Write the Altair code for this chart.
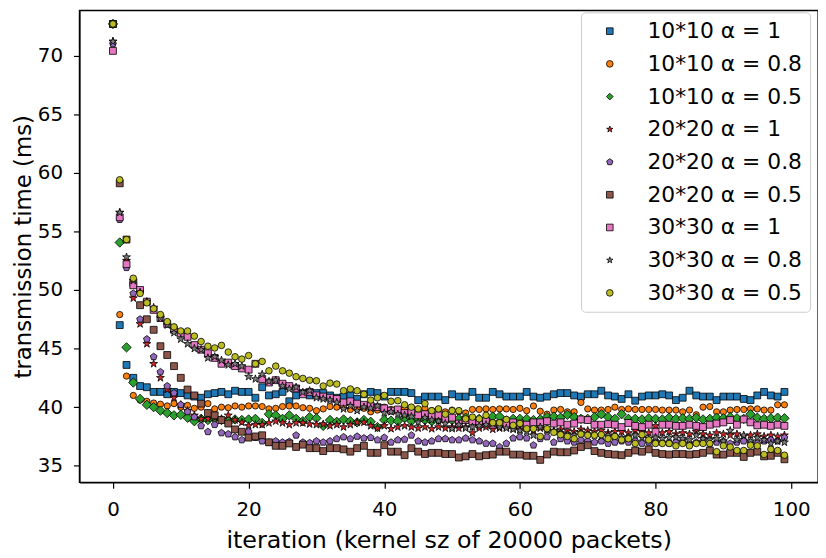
import altair as alt
import pandas as pd

labels = ["10*10 α = 1", "10*10 α = 0.8", "10*10 α = 0.5",
          "20*20 α = 1", "20*20 α = 0.8", "20*20 α = 0.5",
          "30*30 α = 1", "30*30 α = 0.8", "30*30 α = 0.5"]
colors = ["#1f77b4", "#ff7f0e", "#2ca02c", "#d62728", "#9467bd",
          "#8c564b", "#e377c2", "#7f7f7f", "#bcbd22"]
STAR = ("M0,-1L0.225,-0.309L0.951,-0.309L0.363,0.118L0.588,0.809L0,0.382"
        "L-0.588,0.809L-0.363,0.118L-0.951,-0.309L-0.225,-0.309Z")
PENT = "M0,-1L0.951,-0.309L0.588,0.809L-0.588,0.809L-0.951,-0.309Z"
DIAM = "M-1,0L0,-1L1,0L0,1Z"
shapes = ["square", "circle", DIAM, STAR, PENT, "square", "square", STAR, "circle"]
sizes = [48, 40, 90, 70, 52, 48, 48, 70, 44]

iterations = list(range(100))

blue = [
72.7, 47.0, 43.6, 42.5, 41.8, 41.7, 41.3, 41.3, 41.1, 41.3,
41.2, 41.0, 40.9, 40.8, 41.1, 41.2, 41.3, 41.1, 41.4, 41.3,
41.3, 40.8, 41.7, 41.0, 41.1, 41.3, 40.5, 41.0, 41.2, 41.0,
41.2, 41.2, 41.0, 40.8, 40.9, 41.0, 40.7, 41.1, 41.3, 41.2,
40.9, 41.3, 41.3, 41.3, 41.2, 40.6, 40.9, 40.9, 40.9, 40.6,
41.1, 40.9, 40.9, 41.3, 40.8, 40.8, 41.3, 41.1, 40.9, 40.9,
40.9, 41.3, 40.9, 40.8, 40.9, 41.1, 41.2, 41.2, 41.0, 40.9,
41.1, 41.1, 41.4, 41.0, 40.9, 40.7, 41.1, 40.55, 40.9, 41.0,
41.0, 41.1, 41.0, 40.6, 40.8, 41.4, 41.0, 40.9, 40.9, 40.6,
40.9, 40.9, 40.9, 40.7, 40.6, 41.0, 41.3, 41.0, 40.9, 41.3]

orange = [
72.7, 47.9, 42.65, 41.0, 40.6, 40.5, 40.35, 40.25, 40.1, 40.3,
40.0, 40.15, 39.9, 40.0, 40.3, 39.85, 40.0, 39.95, 40.1, 40.0,
40.1, 40.1, 40.05, 39.85, 39.9, 40.05, 40.1, 40.1, 39.95, 39.9,
39.7, 39.85, 40.05, 40.0, 40.0, 39.8, 39.85, 39.9, 39.6, 39.75,
40.0, 39.8, 39.7, 39.9, 39.75, 39.8, 39.9, 39.7, 39.8, 39.6,
39.75, 39.6, 39.5, 39.8, 39.8, 39.85, 39.8, 39.85, 39.85, 39.8,
39.9, 39.7, 40.1, 39.65, 39.4, 39.75, 39.8, 39.6, 39.6, 40.4,
39.85, 39.75, 39.75, 39.8, 40.0, 39.8, 39.85, 39.8, 39.8, 39.8,
39.8, 39.75, 39.75, 39.75, 39.6, 39.75, 39.35, 40.0, 40.05, 39.6,
39.6, 39.75, 39.8, 39.8, 39.85, 39.85, 39.75, 39.75, 40.2, 40.2]

green = [
72.7, 54.05, 45.1, 42.1, 40.7, 40.2, 40.0, 39.7, 39.5, 39.3,
39.35, 39.1, 38.8, 39.0, 38.9, 39.0, 38.9, 38.85, 38.95, 38.9,
38.95, 39.0, 38.65, 39.4, 39.3, 39.0, 39.3, 39.0, 38.8, 39.15,
39.05, 38.4, 38.9, 38.75, 38.95, 38.8, 38.7, 38.9, 38.75, 38.3,
38.9, 38.85, 38.8, 39.1, 38.8, 39.0, 38.9, 38.8, 38.9, 38.95,
38.9, 39.0, 39.1, 38.9, 39.0, 38.95, 39.2, 39.2, 38.85, 39.0,
39.0, 39.0, 38.9, 38.95, 39.15, 39.2, 39.1, 39.35, 39.15, 39.0,
39.0, 39.15, 39.4, 39.15, 39.0, 39.4, 39.0, 39.0, 38.95, 39.05,
39.0, 38.95, 39.1, 39.0, 39.05, 39.0, 39.1, 38.95, 39.0, 39.1,
39.05, 39.15, 39.05, 39.0, 39.4, 39.1, 39.0, 39.05, 39.1, 39.05]

red = [
71.2, 56.6, 52.5, 49.3, 47.1, 45.4, 43.7, 42.5, 41.5, 40.8,
40.2, 39.7, 39.3, 39.0, 39.0, 39.1, 39.0, 39.3, 38.9, 38.7,
38.4, 38.5, 38.5, 38.65, 38.8, 38.65, 38.5, 38.65, 38.65, 38.55,
38.5, 38.55, 38.4, 38.5, 38.3, 38.5, 38.7, 38.7, 38.4, 38.2,
38.4, 38.15, 38.3, 38.4, 38.3, 38.2, 38.3, 38.15, 38.3, 38.2,
38.3, 38.2, 38.3, 37.8, 38.2, 38.3, 38.1, 38.2, 38.3, 38.2,
38.1, 38.2, 38.0, 38.2, 38.1, 38.0, 38.1, 38.0, 37.9, 38.1,
38.0, 37.9, 38.0, 37.8, 37.9, 37.9, 37.8, 38.0, 37.9, 37.8,
38.4, 37.8, 37.9, 37.7, 37.8, 37.7, 37.9, 37.7, 37.6, 37.8,
37.7, 37.6, 37.7, 37.5, 37.6, 37.7, 37.5, 37.6, 37.5, 37.6]

purple = [
71.0, 56.0, 51.9, 49.7, 47.5, 45.8, 44.3, 43.0, 41.8, 41.2,
40.2, 39.6, 39.15, 38.4, 37.9, 38.5, 37.8, 37.7, 37.45, 37.2,
37.9, 37.4, 37.1, 37.0, 37.1, 37.0, 37.05, 37.6, 37.0, 36.95,
37.1, 37.0, 37.1, 37.3, 37.45, 37.3, 37.5, 37.35, 37.4, 37.2,
37.4, 37.0, 37.2, 37.25, 37.6, 37.1, 37.0, 37.1, 37.3, 37.3,
37.2, 37.2, 37.35, 37.2, 37.1, 36.9, 36.9, 36.6, 36.9, 37.35,
37.45, 37.35, 36.75, 37.3, 37.45, 37.0, 37.3, 37.1, 37.0, 37.2,
37.1, 37.0, 37.1, 36.9, 37.0, 37.1, 37.0, 37.1, 36.9, 37.0,
37.1, 37.0, 36.9, 37.0, 37.1, 36.9, 37.0, 37.1, 36.9, 37.0,
37.1, 36.9, 37.0, 37.1, 37.0, 36.9, 37.1, 37.2, 37.1, 37.4]

brown = [
72.7, 59.1, 54.3, 50.6, 48.7, 47.5, 46.6, 45.2, 44.45, 43.5,
42.5, 41.5, 41.0, 40.3, 39.5, 39.3, 38.9, 38.6, 38.1, 37.9,
37.4, 37.5, 37.6, 37.0, 36.7, 36.7, 36.9, 36.6, 36.8, 36.5,
36.5, 36.25, 36.5, 36.5, 36.4, 36.2, 36.5, 36.7, 36.1, 36.1,
36.75, 36.2, 36.2, 35.9, 36.5, 36.2, 36.0, 36.1, 36.1, 36.0,
36.0, 35.7, 35.8, 36.0, 35.8, 35.9, 35.95, 36.2, 36.2, 35.95,
35.95, 35.85, 35.85, 35.5, 35.96, 36.2, 36.15, 36.15, 36.3, 36.6,
36.75, 36.25, 36.1, 36.0, 35.95, 35.9, 36.1, 36.3, 36.2, 36.4,
36.1, 36.0, 35.95, 36.0, 36.0, 35.95, 36.0, 36.1, 36.3, 35.95,
35.95, 36.1, 36.1, 35.75, 36.1, 36.2, 35.8, 35.85, 36.1, 35.55]

pink = [
70.4, 56.2, 52.2, 50.4, 50.0, 49.0, 48.3, 47.6, 47.1, 46.6,
46.3, 46.0, 45.3, 44.9, 44.6, 44.2, 43.7, 43.8, 43.5, 43.3,
43.2, 43.7, 42.4, 42.1, 42.3, 42.0, 41.8, 41.6, 41.1, 41.3,
41.0, 40.9, 40.8, 40.7, 40.4, 40.5, 40.3, 40.2, 40.1, 40.0,
39.9, 39.7, 39.8, 39.5, 39.6, 39.3, 39.4, 39.2, 39.3, 39.0,
39.1, 38.6, 38.9, 38.8, 38.7, 38.8, 38.5, 38.6, 38.5, 38.7,
38.6, 38.5, 38.7, 38.7, 38.8, 38.6, 38.7, 38.5, 38.6, 38.95,
38.9, 38.5, 38.5, 38.55, 38.5, 38.3, 38.65, 38.4, 38.3, 38.5,
37.9, 38.5, 38.5, 38.4, 38.4, 38.5, 38.4, 38.3, 38.5, 38.6,
38.7, 38.9, 38.5, 38.95, 38.7, 38.45, 38.5, 38.4, 38.5, 38.4]

gray = [
71.2, 56.6, 52.8, 50.8, 49.8, 49.0, 48.5, 47.6, 47.0, 46.35,
45.8, 45.4, 45.0, 44.9, 44.2, 44.3, 44.0, 43.6, 43.7, 43.5,
42.6, 42.4, 42.8, 42.2, 42.3, 41.8, 41.55, 41.7, 41.27, 41.4,
40.8, 40.7, 40.6, 40.4, 39.85, 40.1, 39.7, 40.0, 39.9, 40.1,
39.5, 39.6, 39.4, 39.3, 39.2, 38.7, 39.1, 38.9, 38.8, 38.6,
38.16, 38.5, 38.2, 38.3, 38.4, 38.5, 38.6, 38.3, 38.2, 38.1,
38.0, 37.9, 37.6, 38.3, 38.0, 37.9, 37.8, 37.7, 37.6, 37.8,
37.7, 37.6, 37.5, 37.6, 37.5, 37.4, 37.45, 37.6, 37.4, 37.3,
37.4, 37.3, 37.4, 37.45, 37.3, 37.2, 37.6, 37.3, 37.2, 37.3,
37.1, 38.0, 37.2, 37.6, 37.1, 37.4, 37.2, 36.9, 37.1, 37.0]

olive = [
72.7, 59.4, 54.3, 51.0, 49.7, 48.9, 48.4, 47.9, 47.3, 46.85,
46.5, 46.5, 46.06, 45.6, 45.2, 45.05, 45.27, 44.7, 44.3, 44.1,
44.4, 43.7, 43.9, 43.1, 43.5, 43.1, 42.9, 42.6, 42.45, 42.3,
42.25, 41.8, 42.05, 41.97, 41.4, 41.55, 41.4, 41.1, 40.6, 40.8,
41.0, 40.5, 40.55, 40.2, 40.0, 39.85, 40.3, 39.7, 39.85, 39.4,
39.7, 39.7, 39.0, 39.15, 39.0, 39.3, 38.67, 38.67, 38.95, 38.45,
38.6, 38.16, 38.16, 37.5, 38.16, 37.85, 37.65, 37.5, 37.3, 37.7,
37.6, 37.6, 37.65, 37.3, 37.5, 37.2, 37.3, 36.9, 37.65, 37.2,
36.9, 36.9, 36.9, 36.7, 36.9, 36.7, 36.9, 36.9, 36.9, 36.2,
36.7, 36.6, 36.3, 36.3, 36.75, 36.7, 35.96, 36.4, 36.3, 35.9]

series_values = [blue, orange, green, red, purple, brown, pink, gray, olive]

rows = []
for lab, msz, vals in zip(labels, sizes, series_values):
    for it, v in zip(iterations, vals):
        rows.append({"series": lab, "iteration": it, "time": v, "msize": msz})
df = pd.DataFrame(rows)

FONT = "DejaVu Sans"

leg = alt.Legend(
    title=None, orient="none", legendX=506, legendY=2,
    labelFont=FONT, labelFontSize=22, labelColor="black", labelLimit=400,
    symbolSize=45, symbolStrokeColor="black", symbolStrokeWidth=0.8,
    rowPadding=11, padding=8, labelOffset=27, symbolOffset=10,
    fillColor="rgba(255,255,255,0.8)", strokeColor="#cccccc", cornerRadius=4,
)

chart = alt.Chart(df).mark_point(
    filled=True, opacity=1, stroke="black", strokeWidth=0.8
).encode(
    x=alt.X("iteration:Q",
            scale=alt.Scale(domain=[-4.95, 103.95], nice=False, zero=False),
            axis=alt.Axis(values=[0, 20, 40, 60, 80, 100],
                          title="iteration (kernel sz of 20000 packets)",
                          labelPadding=12, titlePadding=9)),
    y=alt.Y("time:Q",
            scale=alt.Scale(domain=[33.59, 73.86], nice=False, zero=False),
            axis=alt.Axis(values=[35, 40, 45, 50, 55, 60, 65, 70],
                          title="transmission time (ms)", titleFontSize=23,
                          labelPadding=11, titlePadding=2)),
    color=alt.Color("series:N", scale=alt.Scale(domain=labels, range=colors), legend=leg),
    shape=alt.Shape("series:N", scale=alt.Scale(domain=labels, range=shapes), legend=leg),
    size=alt.Size("msize:Q", scale=None, legend=None),
).properties(
    width=745, height=476,
    autosize=alt.AutoSizeParams(type="none"),
    padding={"left": 72, "top": 0, "right": 0, "bottom": 70},
).configure_view(
    stroke="black", strokeWidth=1.4
).configure_axis(
    grid=False, domainColor="black", domainWidth=1.4,
    tickColor="black", tickWidth=1.2, tickSize=6,
    labelFont=FONT, labelFontSize=20, labelColor="black", labelFlush=False,
    titleFont=FONT, titleFontSize=24, titleFontWeight="normal", titleColor="black",
)

chart.save("out.html", embed_options={"renderer": "svg", "actions": False})
